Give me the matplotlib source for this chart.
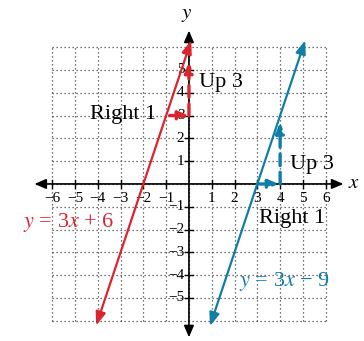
import matplotlib
matplotlib.use("Agg")
import matplotlib.pyplot as plt
import numpy as np

plt.rcParams['font.family'] = ['Liberation Serif', 'DejaVu Serif']
plt.rcParams['mathtext.fontset'] = 'stix'

# Data
red_slope, red_int = 3, 6
blue_slope, blue_int = 3, -9
red_x_range = [-4.07, 0.1]
blue_x_range = [0.92, 5.1]
x_ticks = [-6, -5, -4, -3, -2, -1, 1, 2, 3, 4, 5, 6]
y_ticks = [-5, -4, -3, -2, -1, 1, 2, 3, 4, 5]
red_run = [(-0.85, 3), (0, 3)]
red_rise = [(0, 3), (0, 5.35)]
blue_run = [(3, 0), (3.95, 0)]
blue_rise = [(4, 0), (4, 2.7)]

RED = '#d9252d'
BLUE = '#0f7ea6'

fig = plt.figure(figsize=(3.64, 3.41), dpi=100)
ax = fig.add_axes([0, 0, 1, 1])
ax.set_xlim(-8.29, 7.68)
ax.set_ylim(-6.89, 8.07)
ax.axis('off')

# grid
for g in range(-6, 7):
    ax.plot([g, g], [-6, 6], linestyle=(0, (1, 2.2)), color='#444444', lw=0.9, zorder=1)
    ax.plot([-6, 6], [g, g], linestyle=(0, (1, 2.2)), color='#444444', lw=0.9, zorder=1)

# axes with arrows
ax.annotate('', xy=(-6.9, 0), xytext=(6.9, 0),
            arrowprops=dict(arrowstyle='<|-|>,head_length=0.7,head_width=0.3', color='black', lw=1.2), zorder=3)
ax.annotate('', xy=(0, -6.85), xytext=(0, 6.85),
            arrowprops=dict(arrowstyle='<|-|>,head_length=0.7,head_width=0.3', color='black', lw=1.2), zorder=3)

# ticks
for t in x_ticks:
    ax.plot([t, t], [-0.18, 0.18], color='black', lw=1.0, zorder=3)
    lab = ('\u2212%d' % -t) if t < 0 else str(t)
    ax.text(t, -0.62, lab, ha='center', va='center', fontsize=11, zorder=4)
for t in y_ticks:
    ax.plot([-0.18, 0.18], [t, t], color='black', lw=1.0, zorder=3)
    lab = ('\u2212%d' % -t) if t < 0 else str(t)
    ax.text(-0.2, t, lab, ha='right', va='center', fontsize=11, zorder=4)

ax.text(-0.1, 7.45, '$y$', ha='center', va='center', fontsize=15)
ax.text(7.25, 0.0, '$x$', ha='center', va='center', fontsize=15)

# lines
def draw_line(xr, m, b, color):
    x0, x1 = xr
    ax.annotate('', xy=(x0, m * x0 + b), xytext=(x1, m * x1 + b),
                arrowprops=dict(arrowstyle='<|-|>,head_length=0.8,head_width=0.3', color=color, lw=1.6,
                                shrinkA=0, shrinkB=0), zorder=5)

draw_line(red_x_range, red_slope, red_int, RED)
draw_line(blue_x_range, blue_slope, blue_int, BLUE)

def dashed_arrow(seg, color):
    (x0, y0), (x1, y1) = seg
    ax.annotate('', xy=(x1, y1), xytext=(x0, y0),
                arrowprops=dict(arrowstyle='-|>,head_length=0.6,head_width=0.25', color=color, lw=2.4,
                                linestyle=(0, (3.5, 2)), shrinkA=0, shrinkB=0), zorder=4)

dashed_arrow(red_run, RED)
dashed_arrow(red_rise, RED)
dashed_arrow(blue_run, BLUE)
dashed_arrow(blue_rise, BLUE)

ax.text(0.42, 4.47, 'Up 3', ha='left', va='center', fontsize=16, zorder=6)
ax.text(-1.45, 3.05, 'Right 1', ha='right', va='center', fontsize=16, zorder=6)
ax.text(4.42, 0.85, 'Up 3', ha='left', va='center', fontsize=16, zorder=6)
ax.text(6.0, -1.5, 'Right 1', ha='right', va='center', fontsize=16, zorder=6)

ax.text(-5.27, -1.67, '$y$ = 3$x$ + 6', ha='center', va='center', fontsize=16, color=RED, zorder=6)
ax.text(4.2, -4.3, '$y$ = 3$x$ \u2212 9', ha='center', va='center', fontsize=16, color=BLUE, zorder=6)

fig.savefig('out.png', dpi=100)
